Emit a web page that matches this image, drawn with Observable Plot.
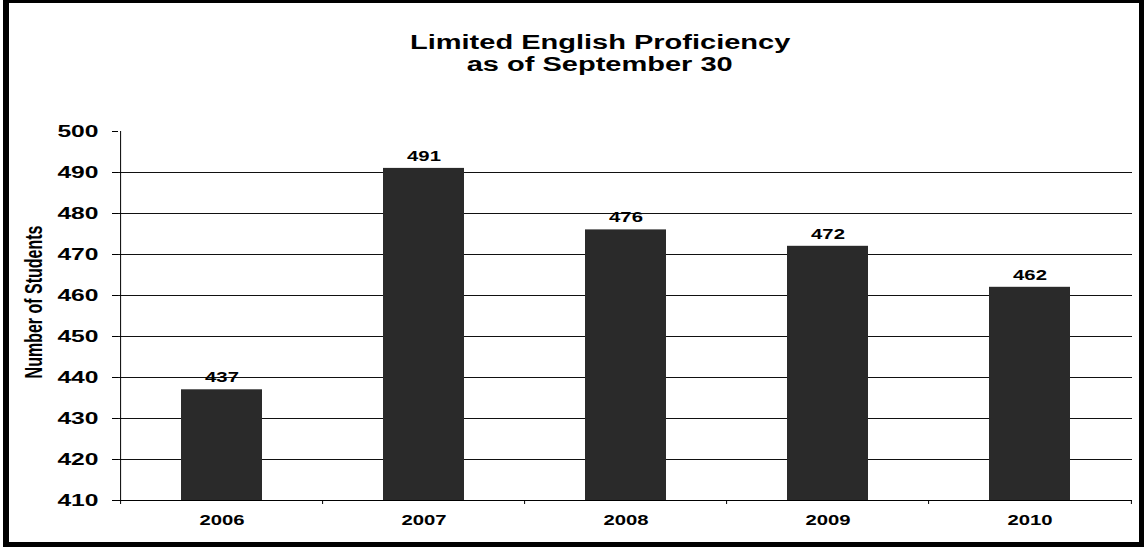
<!DOCTYPE html>
<html><head><meta charset="utf-8">
<script src="https://cdn.jsdelivr.net/npm/d3@7"></script>
<script src="https://cdn.jsdelivr.net/npm/@observablehq/plot@0.6"></script>
<style>
body{margin:0;background:#fff;}
#wrap{position:relative;width:1145px;height:548px;overflow:hidden;font-family:"Liberation Sans",Arial,sans-serif;}
#frame{position:absolute;left:3px;top:0;width:1141px;height:547px;box-sizing:border-box;border-style:solid;border-color:#000;border-width:3px 5px 5px 6px;pointer-events:none;}
#title{position:absolute;left:0;top:31px;width:1200px;text-align:center;font-weight:bold;font-size:20px;line-height:22px;color:#000;}
#title span{display:inline-block;transform:scaleX(1.45);transform-origin:center;}
#chart{position:absolute;left:0;top:100px;}
</style></head>
<body><div id="wrap"><div id="title"></div><div id="chart"></div><div id="frame"></div></div>
<script>
const titleLines = ["Limited English Proficiency", "as of September 30"];
const yLabel = "Number of Students";
const years = ["2006", "2007", "2008", "2009", "2010"];
const students = [437, 491, 476, 472, 462];
const yTicks = [410, 420, 430, 440, 450, 460, 470, 480, 490, 500];
const gridValues = [420, 430, 440, 450, 460, 470, 480, 490];

document.getElementById("title").innerHTML = titleLines.map(t => `<span>${t}</span>`).join("<br>");
const data = years.map((y, i) => ({year: y, value: students[i]}));

const W = 1145, H = 448, mL = 118, mR = 13, mT = 31, mB = 48;
const step = (W - mL - mR) / years.length;
const SX = 1.45;

const chart = Plot.plot({
  width: W, height: H,
  marginLeft: mL, marginRight: mR, marginTop: mT, marginBottom: mB,
  style: {fontFamily: "'Liberation Sans', Arial, sans-serif", color: "#000", background: "transparent", overflow: "visible"},
  x: {domain: years, paddingInner: 0.6, paddingOuter: 0.3, label: null, tickSize: 0, tickPadding: 15},
  y: {domain: [410, 500], ticks: yTicks, label: null, tickSize: 6, tickPadding: 14, tickFormat: d => String(d)},
  marks: [
    Plot.ruleY(gridValues, {stroke: "#111", strokeWidth: 1}),
    Plot.barY(data, {x: "year", y1: 410, y2: "value", fill: "#2a2a2a"}),
    Plot.text(data, {x: "year", y: "value", text: d => String(d.value), dy: -12, fontWeight: "bold", fontSize: 14, fill: "#000"}),
    Plot.ruleY([410], {stroke: "#000", strokeWidth: 1}),
    Plot.ruleX([years[0]], {x: d => d, y1: 410, y2: 500, dx: -step / 2, stroke: "#000"}),
    Plot.ruleX(years, {x: d => d, y1: 410, y2: 410, insetBottom: -4, dx: -step / 2, stroke: "#000"}),
    Plot.ruleX([years[years.length - 1]], {x: d => d, y1: 410, y2: 410, insetBottom: -4, dx: step / 2, stroke: "#000"}),
    Plot.text([yLabel], {frameAnchor: "left", rotate: -90, dx: -84, dy: -14, fontSize: 16, fontWeight: "bold", fill: "#000", textAnchor: "middle", ariaLabel: "ylabel"})
  ]
});
chart.querySelectorAll('g[aria-label="y-axis tick label"] text, g[aria-label="y-axis"] text').forEach(t => {t.setAttribute("font-weight", "bold"); t.style.fontSize = "17px";});
chart.querySelectorAll('g[aria-label="x-axis tick label"] text, g[aria-label="x-axis"] text').forEach(t => {t.setAttribute("font-weight", "bold"); t.style.fontSize = "14px";});
chart.querySelectorAll('g[aria-label="y-axis tick"], g[aria-label="y-axis"] path').forEach(g => g.setAttribute("stroke", "#000"));
// horizontal stretch of glyphs, as in the reference
chart.querySelectorAll("text").forEach(t => {
  const isLabel = t.closest('g[aria-label="ylabel"]') || (t.getAttribute("transform") || "").includes("rotate");
  const x = parseFloat(t.getAttribute("x") || 0), y = parseFloat(t.getAttribute("y") || 0);
  const tr = t.getAttribute("transform") || "";
  const sc = isLabel ? `scale(1,1.55)` : `scale(${SX},1)`;
  t.setAttribute("transform", `${tr} translate(${x},${y}) ${sc} translate(${-x},${-y})`);
});
document.getElementById("chart").appendChild(chart);
</script>
</body></html>
